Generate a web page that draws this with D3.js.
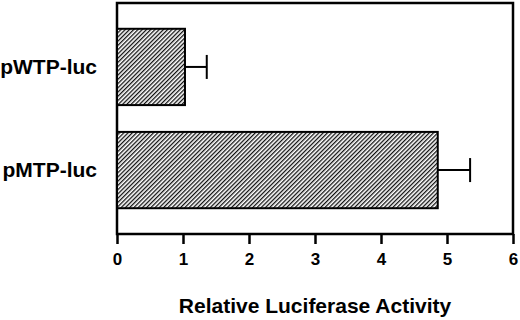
<!DOCTYPE html>
<html>
<head>
<meta charset="utf-8">
<title>Relative Luciferase Activity</title>
<script src="https://cdn.jsdelivr.net/npm/d3@7"></script>
<style>
body { margin:0; background:#fff; }
text { font-family:'Liberation Sans', Arial, sans-serif; font-weight:bold; fill:#000; }
</style>
</head>
<body>
<svg id="svg" width="520" height="320"></svg>
<script>
// data
var constructs = ['pWTP-luc', 'pMTP-luc'];
var activity = [1.03, 4.86];
var errors = [0.33, 0.49];
var ticks = [0, 1, 2, 3, 4, 5, 6];

var margin = {top: 3, right: 7, bottom: 86, left: 117};
var width = 520 - margin.left - margin.right,
    height = 320 - margin.top - margin.bottom;

var svg = d3.select('#svg');

// hatch fill
var defs = svg.append('defs');
var pat = defs.append('pattern')
    .attr('id', 'hatch')
    .attr('patternUnits', 'userSpaceOnUse')
    .attr('width', 3).attr('height', 3)
    .attr('patternTransform', 'rotate(45)');
pat.append('rect').attr('width', 3).attr('height', 3).attr('fill', '#fff');
pat.append('line')
    .attr('x1', 0).attr('y1', 0).attr('x2', 0).attr('y2', 3)
    .attr('stroke', '#111').attr('stroke-width', 2.6);

var g = svg.append('g').attr('transform', 'translate(' + margin.left + ',' + margin.top + ')');

var x = d3.scaleLinear().domain([0, 6]).range([0, width]);
var y = d3.scaleBand().domain(constructs).range([0, height])
    .paddingInner(0.26).paddingOuter(0.25);

var data = constructs.map(function(c, i){ return {name: c, v: activity[i], e: errors[i]}; });

// frame
g.append('rect')
    .attr('x', 0).attr('y', 0).attr('width', width).attr('height', height)
    .attr('fill', 'none').attr('stroke', '#000').attr('stroke-width', 2.5);

// bars
g.selectAll('rect.bar').data(data).enter().append('rect')
    .attr('class', 'bar')
    .attr('x', x(0))
    .attr('y', function(d){ return y(d.name); })
    .attr('width', function(d){ return x(d.v) - x(0); })
    .attr('height', y.bandwidth())
    .attr('fill', 'url(#hatch)')
    .attr('stroke', '#000').attr('stroke-width', 2);

// error bars
var eb = g.selectAll('g.err').data(data).enter().append('g').attr('class', 'err')
    .attr('stroke', '#000').attr('stroke-width', 2);
eb.append('line')
    .attr('x1', function(d){ return x(d.v); })
    .attr('x2', function(d){ return x(d.v + d.e); })
    .attr('y1', function(d){ return y(d.name) + y.bandwidth() / 2; })
    .attr('y2', function(d){ return y(d.name) + y.bandwidth() / 2; });
eb.append('line')
    .attr('x1', function(d){ return x(d.v + d.e); })
    .attr('x2', function(d){ return x(d.v + d.e); })
    .attr('y1', function(d){ return y(d.name) + y.bandwidth() / 2 - 12; })
    .attr('y2', function(d){ return y(d.name) + y.bandwidth() / 2 + 12; });

// x axis
var xAxis = g.append('g')
    .attr('transform', 'translate(0,' + height + ')')
    .call(d3.axisBottom(x).tickValues(ticks).tickFormat(d3.format('d')).tickSize(10).tickPadding(9));
xAxis.select('.domain').remove();
xAxis.selectAll('.tick line').attr('stroke', '#000').attr('stroke-width', 2.5);
xAxis.selectAll('.tick text').style('font-size', '17px').attr('font-family', null);

// category labels
g.selectAll('text.cat').data(data).enter().append('text')
    .attr('class', 'cat')
    .attr('x', -20)
    .attr('y', function(d){ return y(d.name) + y.bandwidth() / 2; })
    .attr('dy', '0.35em')
    .attr('text-anchor', 'end')
    .style('font-size', '21px')
    .text(function(d){ return d.name; });

// axis title
g.append('text')
    .attr('x', width / 2)
    .attr('y', height + 79)
    .attr('text-anchor', 'middle')
    .style('font-size', '21px')
    .text('Relative Luciferase Activity');
</script>
</body>
</html>
